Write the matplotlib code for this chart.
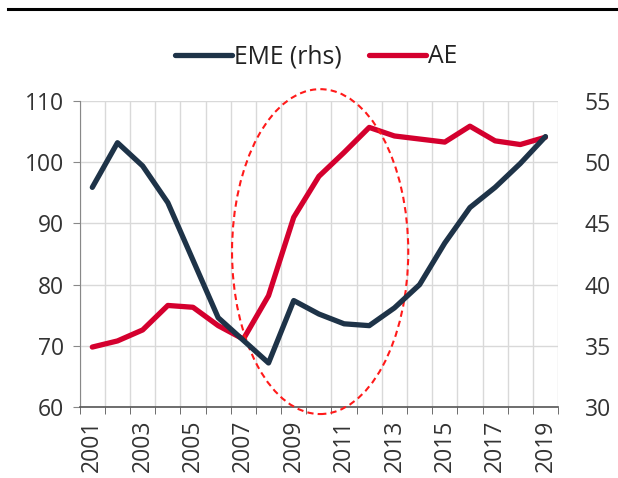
import numpy as np
import matplotlib.pyplot as plt
from matplotlib.patches import Ellipse
from matplotlib.lines import Line2D

plt.rcParams['font.family'] = ['Open Sans', 'DejaVu Sans']

years = list(range(2001, 2020))
ae = [69.8, 70.8, 72.6, 76.6, 76.3, 73.3, 71.1, 78.2, 91.0, 97.7, 101.6,
      105.7, 104.3, 103.8, 103.3, 105.9, 103.5, 102.9, 104.1]
eme = [47.95, 51.6, 49.7, 46.7, 42.0, 37.3, 35.45, 33.6, 38.7, 37.6, 36.8,
       36.65, 38.1, 40.0, 43.4, 46.3, 47.95, 49.9, 52.1]

navy = '#1e3348'
red = '#d4002e'
txt = '#333333'

fig = plt.figure(figsize=(6.18, 4.78), dpi=100)
ax = fig.add_axes([0.129, 0.1485, 0.774, 0.64])
ax2 = ax.twinx()

x = np.arange(len(years))
ax.plot(x, ae, color=red, lw=3.8, solid_capstyle='round', zorder=3)
ax2.plot(x, eme, color=navy, lw=3.8, solid_capstyle='round', zorder=3)

ax.set_xlim(-0.5, len(years) - 0.5)
ax.set_ylim(60, 110)
ax2.set_ylim(30, 55)
ax.set_yticks(range(60, 111, 10))
ax2.set_yticks(range(30, 56, 5))

# category boundaries as ticks/grid, labels at centres
ax.set_xticks(np.arange(-0.5, len(years), 1), minor=True)
ax.set_xticks(x[::2])
ax.set_xticklabels([str(y) for y in years[::2]], rotation=90)
ax.tick_params(axis='x', which='major', length=0, pad=9)
ax.tick_params(axis='x', which='minor', length=5, color='#555555', direction='out')
ax.grid(True, which='minor', axis='x', color='#d9d9d9', lw=1)
ax.grid(True, which='major', axis='y', color='#d9d9d9', lw=1)
ax.set_axisbelow(True)

ax.tick_params(axis='y', length=5, color='#888888', labelsize=16.5, labelcolor=txt, pad=6)
ax.tick_params(axis='x', labelsize=16.5, labelcolor=txt)
ax2.tick_params(axis='y', length=0, labelsize=16.5, labelcolor=txt, pad=19)

for a in (ax, ax2):
    a.spines['top'].set_visible(False)
    a.spines['right'].set_visible(False)
ax2.spines['left'].set_visible(False)
ax2.spines['bottom'].set_visible(False)
ax.spines['left'].set_color('#888888')
ax.spines['bottom'].set_color('#555555')
ax.spines['bottom'].set_linewidth(1.2)

# dashed highlight ellipse
ell = Ellipse((9.05, 85.4), width=7.0, height=53.1, fill=False,
              edgecolor='#ff1a1a', ls=(0, (3, 2)), lw=1.5, clip_on=False, zorder=4)
ax.add_patch(ell)

handles = [Line2D([], [], color=navy, lw=3.8, solid_capstyle='round'),
           Line2D([], [], color=red, lw=3.8, solid_capstyle='round')]
fig.legend(handles, ['EME (rhs)', 'AE'], loc='center', bbox_to_anchor=(0.512, 0.881),
           ncol=2, frameon=False, fontsize=17.8, handlelength=2.3, handletextpad=0.08,
           columnspacing=1.1, labelcolor='#222222')

fig.add_artist(Line2D([0.013, 1.0], [0.981, 0.981], color='black', lw=2.2))

fig.savefig('out.png', dpi=100)
